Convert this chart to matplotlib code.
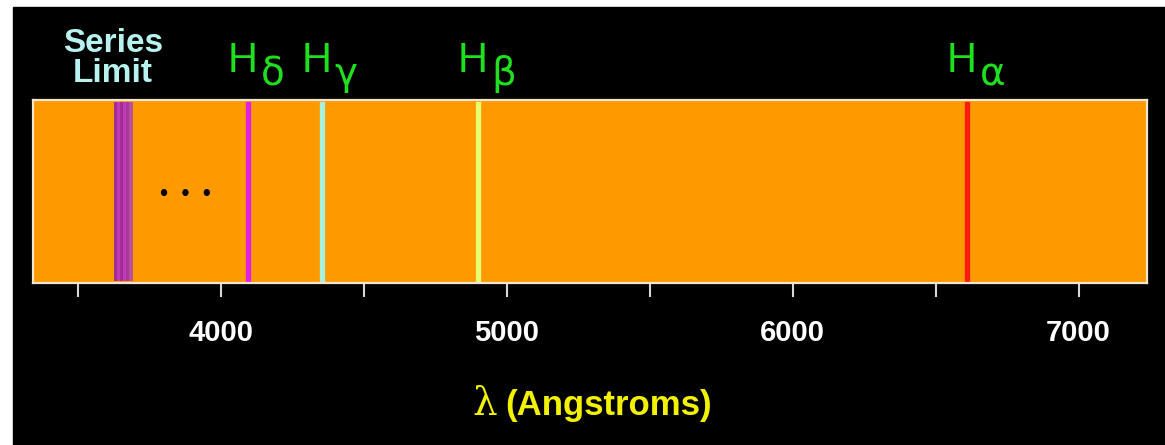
import matplotlib
matplotlib.use('Agg')
import matplotlib.pyplot as plt
from matplotlib.patches import Rectangle

plt.rcParams['font.family'] = ['Liberation Sans', 'DejaVu Sans']

# Balmer lines (wavelength in Angstroms, as drawn in the picture)
line_names = ['δ', 'γ', 'β', 'α']
line_waves = [4096, 4354, 4900, 6608]
line_colors = ['#e020e0', '#a8f0e0', '#e8ff70', '#ff1a10']

# stripes crowding toward the series limit
limit_waves = [3634, 3646, 3656, 3665, 3677, 3686]
limit_colors = ['#a02c98', '#c03cb4', '#a02c98', '#c03cb4', '#a83a9c', '#b8509a']

tick_major = [3500, 4000, 4500, 5000, 5500, 6000, 6500, 7000]
tick_text = ['', '4000', '', '5000', '', '6000', '', '7000']

W, H = 1165, 445
fig = plt.figure(figsize=(W / 100, H / 100), dpi=100)
fig.patch.set_facecolor('white')
fig.add_artist(Rectangle((13 / W, 0), 1 - 13 / W, 438 / H,
                         transform=fig.transFigure, color='black', zorder=0))

ax = fig.add_axes([33 / W, (H - 283) / H, 1114 / W, 183 / H])
ax.set_facecolor('#ff9900')
ax.set_xlim(3344, 7239)
ax.set_ylim(0, 1)
ax.set_yticks([])
for s in ax.spines.values():
    s.set_color('#f2e6d0')
    s.set_linewidth(1.6)

for w, c in zip(limit_waves, limit_colors):
    ax.axvline(w, ymin=0.02, ymax=0.98, color=c, lw=2.8)
for w, c in zip(line_waves, line_colors):
    ax.axvline(w, ymin=0.02, ymax=0.98, color=c, lw=3.8)

ax.text(3876, 0.48, '•  •  •', ha='center', va='center', fontsize=17,
        color='black')

ax.set_xticks(tick_major)
ax.set_xticklabels(tick_text)
ax.tick_params(axis='x', length=10, width=1.5, color='#d8d8d8', pad=16,
               labelsize=21, labelcolor='white')
for lab in ax.get_xticklabels():
    lab.set_fontweight('bold')


def to_px(w):
    return ax.transData.transform((w, 0))[0]


def fy(y):
    return (H - y) / H


# H labels above each line
for name, w in zip(line_names, line_waves):
    x = to_px(w)
    fig.text((x - 20) / W, fy(72), 'H', color='#1ee01e', fontsize=30,
             ha='left', va='baseline')
    fig.text((x + 13) / W, fy(85), name, color='#1ee01e', fontsize=28,
             ha='left', va='baseline', family=['DejaVu Sans'])

xs = to_px(limit_waves[0]) - 3
fig.text(xs / W, fy(52), 'Series', color='#b8f2ee', fontsize=24,
         fontweight='bold', ha='center', va='baseline')
fig.text(xs / W, fy(82), 'Limit', color='#b8f2ee', fontsize=24,
         fontweight='bold', ha='center', va='baseline')

# x axis title
fig.text(472 / W, fy(415), 'λ', color='#f2f200', fontsize=28,
         ha='left', va='baseline', family=['DejaVu Serif'])
fig.text(505 / W, fy(415), '(Angstroms)', color='#f2f200', fontsize=25,
         fontweight='bold', ha='left', va='baseline')

fig.savefig('out.png', dpi=100, facecolor=fig.get_facecolor())
